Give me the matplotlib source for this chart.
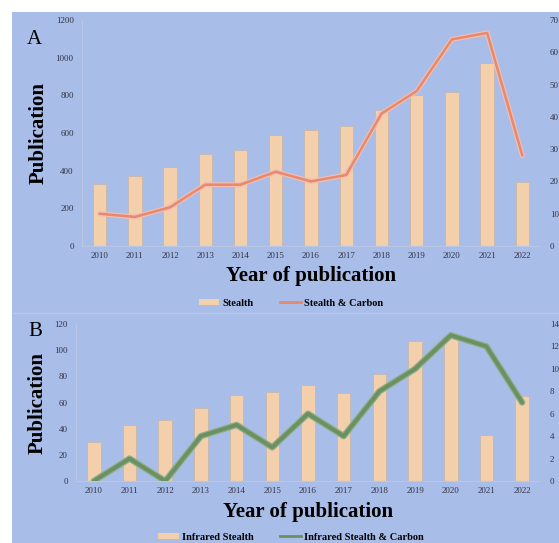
import numpy as np
import matplotlib
matplotlib.use('Agg')
import matplotlib.pyplot as plt
from matplotlib.patches import Rectangle

# --- Données ---
annees = ['2010', '2011', '2012', '2013', '2014', '2015', '2016',
          '2017', '2018', '2019', '2020', '2021', '2022']
stealth = [330, 370, 420, 490, 510, 590, 615, 635, 720, 800, 820, 970, 340]
stealth_carbon = [10, 9, 12, 19, 19, 23, 20, 22, 41, 48, 64, 66, 28]
ir_stealth = [30, 43, 47, 56, 66, 68, 73, 67, 82, 107, 110, 35, 65]
ir_stealth_carbon = [0, 2, 0, 4, 5, 3, 6, 4, 8, 10, 13, 12, 7]

FOND = '#a9bde9'
BARRE = '#f3cfab'
SERIF = ['Liberation Serif', 'DejaVu Serif']

plt.rcParams['font.family'] = SERIF

W, H = 559, 543
fig = plt.figure(figsize=(W / 100, H / 100), dpi=100)
fig.patch.set_facecolor('white')
fig.add_artist(Rectangle((12 / W, 0), 1, 1 - 12 / H, transform=fig.transFigure,
                         facecolor=FOND, edgecolor='none', zorder=-10))
# fine ligne de séparation entre les deux panneaux
fig.add_artist(plt.Line2D([12 / W, 1], [1 - 313 / H, 1 - 313 / H], color='#b6c8ef',
                          lw=1.0, transform=fig.transFigure, zorder=-5))


def panneau(rect, barres, ligne, ymax_g, pas_g, ymax_d, pas_d, coul_l, coul_bord, lw,
            lettre, lettre_xy, leg_barres, leg_ligne, leg_y):
    x = np.arange(len(annees))
    ax = fig.add_axes(rect)
    ax.set_facecolor('none')
    ax.bar(x, barres, width=0.38, color=BARRE, edgecolor='#c7b8ad', linewidth=0.6, zorder=2)
    ax.set_xlim(-0.5, len(annees) - 0.5)
    ax.set_ylim(0, ymax_g)
    ax.set_yticks(np.arange(0, ymax_g + 1, pas_g))
    ax.set_xticks(x)
    ax.set_xticklabels(annees)
    ax.tick_params(axis='both', length=0, labelsize=6.5, colors='#333344')
    ax.tick_params(axis='y', pad=6)
    ax.tick_params(axis='x', pad=4)
    for s in ['top', 'right']:
        ax.spines[s].set_visible(False)
    for s in ['left', 'bottom']:
        ax.spines[s].set_color('#b9c6e6')
        ax.spines[s].set_linewidth(0.8)
    ax.set_ylabel('Publication', fontsize=15, fontweight='bold', labelpad=5)
    ax.set_xlabel('Year of publication', fontsize=15, fontweight='bold', labelpad=5)

    ax2 = ax.twinx()
    ax2.set_ylim(0, ymax_d)
    ax2.set_yticks(np.arange(0, ymax_d + 1, pas_d))
    ax2.tick_params(axis='y', length=0, labelsize=6.5, colors='#333344', pad=7)
    for s in ax2.spines.values():
        s.set_visible(False)
    ax2.plot(x, ligne, color=coul_bord, lw=lw + 1.8, solid_capstyle='round', zorder=3)
    ax2.plot(x, ligne, color=coul_l, lw=lw, solid_capstyle='round', zorder=4)

    fig.text(lettre_xy[0] / W, 1 - lettre_xy[1] / H, lettre, fontsize=15,
             ha='left', va='center')

    h1 = Rectangle((0, 0), 1, 1, facecolor=BARRE, edgecolor='none')
    h2 = plt.Line2D([], [], color=coul_l, lw=2)
    fig.legend([h1, h2], [leg_barres, leg_ligne], loc='center', ncol=2,
               bbox_to_anchor=(0.52, 1 - leg_y / H), frameon=False,
               prop={'family': SERIF, 'weight': 'bold', 'size': 7.5},
               handlelength=2.0, handleheight=0.5, columnspacing=2.5, handletextpad=0.3)
    return ax


panneau([82 / W, 1 - 246 / H, 458 / W, 226 / H], stealth, stealth_carbon,
        1200, 200, 70, 10, '#e58a6f', '#f4bdb0', 1.8,
        'A', (27, 39), 'Stealth', 'Stealth & Carbon', 303)

panneau([76 / W, 1 - 481 / H, 464 / W, 157 / H], ir_stealth, ir_stealth_carbon,
        120, 20, 14, 2, '#6b9163', '#8fae88', 2.8,
        'B', (28, 332), 'Infrared Stealth', 'Infrared Stealth & Carbon', 537)

plt.savefig('out.png', dpi=100, facecolor=fig.get_facecolor())
plt.close()
